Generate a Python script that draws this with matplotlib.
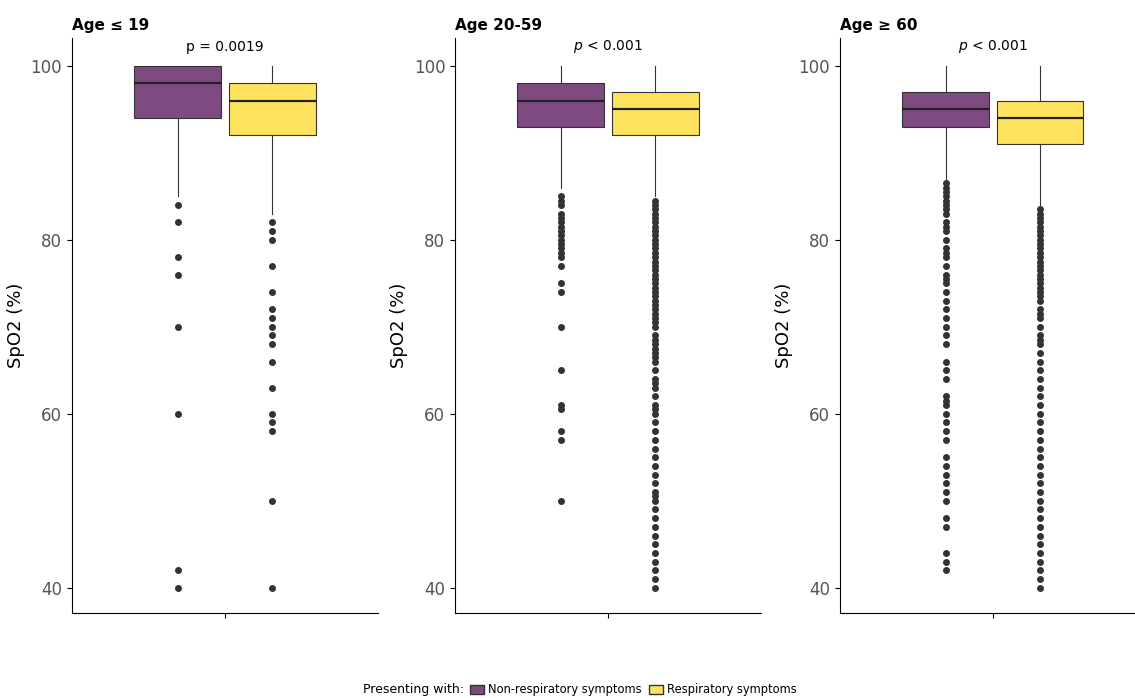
import matplotlib
matplotlib.use("Agg")
import matplotlib.pyplot as plt
from matplotlib.patches import Patch

titles = ["Age \u2264 19", "Age 20-59", "Age \u2265 60"]
groups = ["Non-respiratory symptoms", "Respiratory symptoms"]
colors = ["#7E4B80", "#FEE35E"]

# (whislo, q1, med, q3, whishi, outliers)
stats = [
    [(85, 94, 98, 100, 100, [84, 82, 78, 76, 70, 60, 42, 40]),
     (83, 92, 96, 98, 100, [82, 81, 80, 77, 74, 72, 71, 70, 69, 68, 66, 63, 60, 59, 58, 50, 40])],
    [(86, 93, 96, 98, 100, [85, 84.5, 84, 83, 82.5, 82, 81.5, 81, 80.5, 80, 79.5, 79, 78.5, 78, 77,
                            75, 74, 70, 65, 61, 60.5, 58, 57, 50]),
     (85, 92, 95, 97, 100, [84.5, 84, 83.5, 83, 82.5, 82, 81.5, 81, 80.5, 80, 79.5, 79, 78.5, 78, 77.5,
                            77, 76.5, 76, 75.5, 75, 74.5, 74, 73.5, 73, 72.5, 72, 71.5, 71, 70.5, 70,
                            69, 68.5, 68, 67.5, 67, 66.5, 66, 65, 64, 63.5, 63, 62, 61, 60.5, 60, 59,
                            58, 57, 56, 55, 54, 53, 52, 51, 50.5, 50, 49, 48, 47, 46, 45, 44, 43,
                            42, 41, 40])],
    [(87, 93, 95, 97, 100, [86.5, 86, 85.5, 85, 84.5, 84, 83.5, 83, 82, 81.5, 81, 80, 79, 78.5, 78,
                            77, 76, 75.5, 75, 74, 73, 72, 71, 70, 69, 68, 66, 65, 64, 62, 61.5, 61,
                            60, 59, 58, 57, 55, 54, 53, 52, 51, 50, 48, 47, 44, 43, 42]),
     (84, 91, 94, 96, 100, [83.5, 83, 82.5, 82, 81.5, 81, 80.5, 80, 79.5, 79, 78.5, 78, 77.5, 77,
                            76.5, 76, 75.5, 75, 74.5, 74, 73.5, 73, 72, 71.5, 71, 70, 69, 68.5, 68,
                            67, 66, 65, 64, 63, 62, 61, 60, 59, 58, 57, 56, 55, 54, 53, 52, 51, 50,
                            49, 48, 47, 46, 45, 44, 43, 42, 41, 40])],
]

fig = plt.figure(figsize=(11.35, 6.98), dpi=100)
lefts = [0.0634, 0.4009, 0.740]
for i in range(3):
    ax = fig.add_axes([lefts[i], 0.1218, 0.2696, 0.8238])
    bs = []
    for s in stats[i]:
        bs.append(dict(whislo=s[0], q1=s[1], med=s[2], q3=s[3], whishi=s[4], fliers=s[5]))
    art = ax.bxp(bs, positions=[0.846, 1.154], widths=0.284, patch_artist=True, showcaps=False,
                 boxprops=dict(edgecolor="#333333", linewidth=0.8),
                 medianprops=dict(color="#222222", linewidth=1.6),
                 whiskerprops=dict(color="#333333", linewidth=0.8),
                 flierprops=dict(marker="o", markerfacecolor="#333333", markeredgecolor="#333333",
                                 markersize=4))
    for b, c in zip(art["boxes"], colors):
        b.set_facecolor(c)
    ax.set_xlim(0.5, 1.5)
    ax.set_ylim(37.1, 103.2)
    ax.set_xticks([1])
    ax.set_xticklabels([""])
    ax.set_yticks([40, 60, 80, 100])
    ax.tick_params(axis="y", labelsize=12, labelcolor="#555555")
    for sp in ["top", "right"]:
        ax.spines[sp].set_visible(False)
    ax.set_ylabel("SpO2 (%)", fontsize=13)
    ax.set_title(titles[i], loc="left", fontweight="bold", fontsize=11, x=0.0, pad=6)
    if i == 0:
        ax.text(1, 102.2, "p = 0.0019", ha="center", va="center", fontsize=10)
    else:
        ax.text(1, 102.2, "$\\it{p}$ < 0.001", ha="center", va="center", fontsize=10)

fig.text(464 / 1135, 8 / 698, "Presenting with:", fontsize=9, va="center", ha="right")
handles = [Patch(facecolor=c, edgecolor="#333333") for c in colors]
fig.legend(handles, groups, loc="center left", bbox_to_anchor=(470 / 1135, 8 / 698), ncol=2,
           frameon=False, fontsize=8.3, handlelength=1.2, columnspacing=0.6,
           handletextpad=0.4, borderpad=0, borderaxespad=0)
fig.savefig("out.png", dpi=100)
